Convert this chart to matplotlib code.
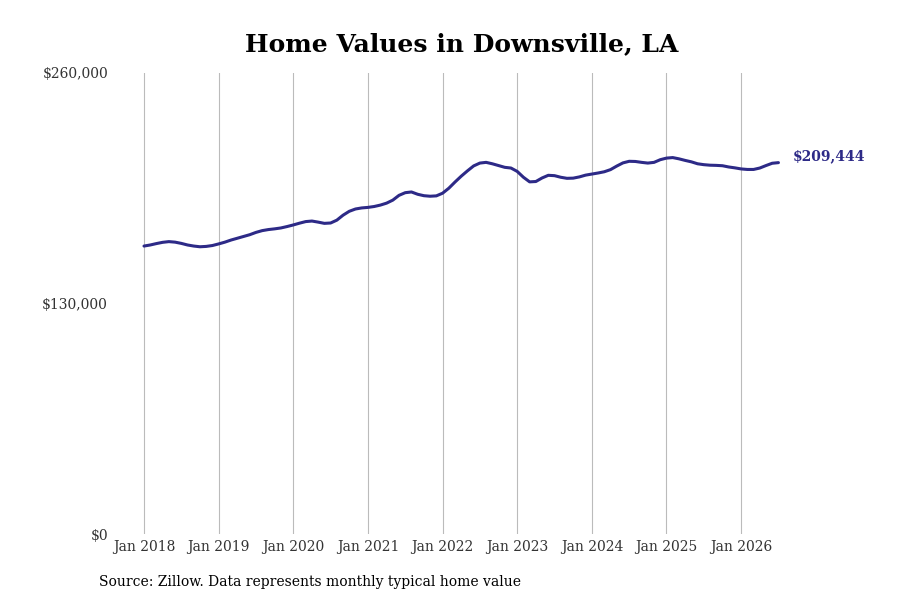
import numpy as np
import matplotlib
matplotlib.use('Agg')
import matplotlib.pyplot as plt

# Monthly typical home value, Jan 2018 .. Jul 2026 (thousands of $)
values_2018 = [162.4, 163.0, 163.8, 164.5, 164.9, 164.6, 163.9, 163.0, 162.4, 162.0, 162.2, 162.7]
values_2019 = [163.6, 164.6, 165.8, 166.8, 167.8, 168.8, 170.1, 171.1, 171.7, 172.1, 172.6, 173.4]
values_2020 = [174.3, 175.3, 176.2, 176.5, 175.9, 175.2, 175.4, 177.0, 179.8, 182.0, 183.3, 183.9]
values_2021 = [184.2, 184.7, 185.5, 186.6, 188.3, 191.0, 192.5, 192.9, 191.6, 190.8, 190.5, 190.7]
values_2022 = [192.2, 195.0, 198.5, 201.8, 204.8, 207.6, 209.2, 209.6, 208.8, 207.8, 206.8, 206.4]
values_2023 = [204.5, 201.2, 198.6, 198.8, 200.8, 202.3, 202.1, 201.2, 200.6, 200.7, 201.4, 202.4]
values_2024 = [203.0, 203.6, 204.3, 205.5, 207.5, 209.3, 210.2, 210.1, 209.6, 209.2, 209.6, 211.1]
values_2025 = [212.0, 212.3, 211.6, 210.7, 209.9, 208.8, 208.3, 208.0, 207.9, 207.7, 207.0, 206.5]
values_2026 = [205.9, 205.6, 205.6, 206.4, 207.8, 209.1, 209.444]

years = [2018, 2019, 2020, 2021, 2022, 2023, 2024, 2025, 2026]
tick_labels = ['Jan %d' % y for y in years]
y_ticks = [0, 130000, 260000]
y_tick_labels = ['$0', '$130,000', '$260,000']
last_label = '$209,444'

values = np.array(values_2018 + values_2019 + values_2020 + values_2021 + values_2022
                  + values_2023 + values_2024 + values_2025 + values_2026) * 1000
months = np.arange(len(values))

line_color = '#2d2a87'
plt.rcParams['font.family'] = ['DejaVu Serif']

fig = plt.figure(figsize=(9, 6), dpi=100)
ax = fig.add_axes([115/900, 1 - 534/600, (880-115)/900, (534-73)/600])

ax.plot(months, values, color=line_color, linewidth=2.2, solid_capstyle='round')
ax.annotate(last_label, (months[-1], values[-1]), xytext=(10, 4.5), textcoords='offset points',
            color=line_color, fontsize=10, fontweight='bold', va='center', ha='left')

ax.set_xlim((115-144)/6.22, (880-144)/6.22)
ax.set_ylim(0, 260000)
ax.set_xticks([12*i for i in range(len(years))])
ax.set_xticklabels(tick_labels, fontsize=10, color='#333333')
ax.set_yticks(y_ticks)
ax.set_yticklabels(y_tick_labels, fontsize=10, color='#333333')
ax.tick_params(axis='both', length=0)
ax.tick_params(axis='x', pad=4)
ax.tick_params(axis='y', pad=5)
ax.grid(axis='x', color='#bbbbbb', linewidth=0.8)
ax.grid(axis='y', visible=False)
for s in ax.spines.values():
    s.set_visible(False)

fig.text(461.5/900, 1 - 44/600, 'Home Values in Downsville, LA', ha='center', va='center',
         fontsize=18, fontweight='bold')
fig.text(99/900, 1 - 582/600, 'Source: Zillow. Data represents monthly typical home value',
         ha='left', va='center', fontsize=10)

fig.savefig('out.png', dpi=100)
